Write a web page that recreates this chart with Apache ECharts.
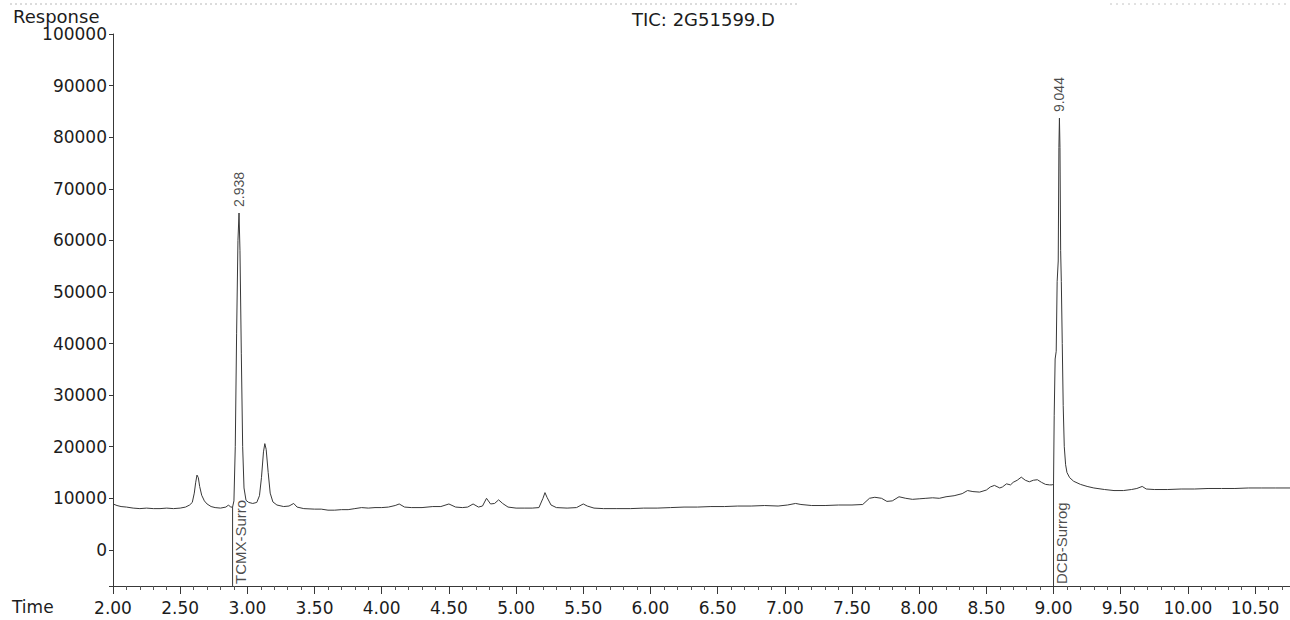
<!DOCTYPE html>
<html>
<head>
<meta charset="utf-8">
<title>TIC: 2G51599.D</title>
<script src="https://cdn.jsdelivr.net/npm/echarts/dist/echarts.min.js"></script>
<style>
html,body{margin:0;padding:0;background:#fff;}
#chart{width:1290px;height:620px;}
</style>
</head>
<body>
<div id="chart"></div>
<script>
// retention time (min) and detector response
const times = [
  2.00,2.03,2.06,2.10,2.15,2.20,2.25,2.30,2.35,2.40,2.45,2.50,2.54,2.57,2.59,2.605,2.615,2.625,2.635,2.645,
  2.66,2.68,2.70,2.73,2.76,2.80,2.84,2.86,2.875,2.89,2.90,2.91,2.92,2.93,2.938,2.945,2.955,2.965,2.975,2.99,
  3.01,3.04,3.07,3.09,3.105,3.12,3.13,3.14,3.155,3.17,3.19,3.22,3.27,3.31,3.345,3.37,3.42,3.50,3.55,3.60,
  3.65,3.70,3.75,3.80,3.85,3.90,3.95,4.00,4.05,4.10,4.13,4.17,4.22,4.30,4.38,4.44,4.50,4.55,4.60,4.64,
  4.68,4.72,4.75,4.78,4.81,4.84,4.87,4.90,4.94,5.00,5.06,5.12,5.17,5.20,5.215,5.23,5.26,5.30,5.38,5.45,
  5.50,5.53,5.58,5.65,5.75,5.85,5.95,6.05,6.15,6.25,6.35,6.45,6.55,6.65,6.75,6.85,6.95,7.02,7.08,7.12,
  7.20,7.30,7.40,7.50,7.58,7.63,7.67,7.72,7.76,7.80,7.85,7.90,7.95,8.00,8.05,8.10,8.15,8.20,8.26,8.32,
  8.36,8.40,8.45,8.50,8.53,8.56,8.60,8.62,8.65,8.68,8.70,8.73,8.76,8.79,8.82,8.85,8.88,8.91,8.94,8.97,
  8.99,9.00,9.005,9.012,9.02,9.027,9.035,9.04,9.044,9.048,9.053,9.058,9.065,9.072,9.08,9.09,9.10,9.12,9.15,9.20,
  9.25,9.30,9.38,9.45,9.52,9.58,9.62,9.66,9.69,9.75,9.85,9.95,10.05,10.15,10.25,10.35,10.45,10.55,10.65,10.76
];
const responses = [
  8900,8600,8400,8300,8100,8000,8100,8000,8000,8100,8000,8100,8300,8700,9200,11000,13000,14500,14000,12300,
  10600,9500,8900,8400,8200,8100,8300,8700,8300,8300,9500,20000,42000,60000,65300,58000,38000,20000,12000,9600,
  9200,9000,9200,10500,14000,19000,20600,19500,15000,11000,9300,8700,8400,8500,9000,8300,8000,7900,7900,7700,
  7700,7800,7800,8000,8200,8100,8200,8200,8300,8600,8900,8300,8200,8200,8400,8400,8900,8300,8200,8300,
  8900,8300,8500,10000,8900,9000,9700,9000,8300,8100,8100,8100,8200,10000,11100,10200,8700,8200,8100,8200,
  8900,8500,8100,8000,8000,8000,8100,8100,8200,8300,8300,8400,8400,8500,8500,8600,8500,8700,9000,8800,
  8600,8600,8700,8700,8800,10000,10200,10000,9400,9500,10300,10000,9800,9900,10000,10100,10000,10300,10500,10900,
  11500,11300,11200,11600,12200,12500,12000,12200,12800,12600,13100,13500,14100,13500,13200,13500,13600,13100,12700,12600,
  12600,12800,26000,37000,38500,52000,56000,78000,83700,78000,58000,52000,40000,28000,20000,16500,15000,14000,13300,12700,
  12300,12000,11700,11500,11500,11700,11900,12300,11800,11700,11700,11800,11800,11900,11900,11900,12000,12000,12000,12000
];

// labelled peaks (apex retention times)
const peakTimes = [2.938, 9.044];
// integration start markers and compound names
const markerTimes = [2.89, 9.00];
const markerNames = ['TCMX-Surro', 'DCB-Surrog'];

const yMin = -7000;
const yMax = 100000;
const xMin = 2.0;
const xMax = 10.76;

const ink = '#383838';
const txt = '#1c1c1c';

function valueAt(t){
  const i = times.indexOf(t);
  return responses[i];
}

const trace = times.map((t, i) => [t, responses[i]]);
const peaks = peakTimes.map(t => [t, valueAt(t)]);

const markerSeries = markerTimes.map((t, i) => ({
  type: 'line',
  silent: true,
  symbol: 'none',
  lineStyle: {color: ink, width: 1},
  data: [[t, yMin], [t, valueAt(t)]]
}));

const chart = echarts.init(document.getElementById('chart'), null, {renderer: 'svg'});
chart.setOption({
  animation: false,
  backgroundColor: '#fff',
  grid: {left: 113, right: 0, top: 34, bottom: 34},
  graphic: [
    {type: 'line', shape: {x1: 10, y1: 4, x2: 800, y2: 4},
      style: {stroke: '#b8b8b8', lineWidth: 1, lineDash: [2, 3]}},
    {type: 'line', shape: {x1: 1110, y1: 4, x2: 1288, y2: 4},
      style: {stroke: '#c4c4c4', lineWidth: 1, lineDash: [2, 4]}},
    {type: 'text', left: 13, top: 7,
      style: {text: 'Response', fontFamily: 'DejaVu Sans', fontSize: 18, fill: txt}},
    {type: 'text', left: 12, top: 598,
      style: {text: 'Time', fontFamily: 'DejaVu Sans', fontSize: 17, fill: txt}},
    {type: 'text', left: 632, top: 10,
      style: {text: 'TIC: 2G51599.D', fontFamily: 'DejaVu Sans', fontSize: 18, fill: txt}}
  ],
  xAxis: {
    type: 'value',
    min: xMin,
    max: xMax,
    interval: 0.5,
    axisLine: {onZero: false, lineStyle: {color: ink, width: 1}},
    axisTick: {length: 8, lineStyle: {color: ink}},
    minorTick: {show: true, splitNumber: 5, length: 4, lineStyle: {color: '#555'}},
    splitLine: {show: false},
    axisLabel: {
      margin: 13,
      showMaxLabel: false,
      color: txt,
      fontFamily: 'DejaVu Sans',
      fontSize: 17,
      formatter: v => v.toFixed(2)
    }
  },
  yAxis: {
    type: 'value',
    min: yMin,
    max: yMax,
    splitNumber: 10,
    minInterval: 10000,
    maxInterval: 10000,
    axisLine: {show: true, lineStyle: {color: ink, width: 1}},
    axisTick: {show: true, length: 4, lineStyle: {color: ink}},
    splitLine: {show: false},
    axisLabel: {
      margin: 6,
      color: txt,
      fontFamily: 'DejaVu Sans',
      fontSize: 17,
      formatter: v => (v < 0 ? '' : String(v))
    }
  },
  series: [
    {
      type: 'line',
      name: 'TIC',
      silent: true,
      symbol: 'none',
      lineStyle: {color: ink, width: 1},
      data: trace
    },
    ...markerSeries,
    {
      // retention time labels above the two surrogate peaks
      type: 'scatter',
      silent: true,
      symbolSize: 0,
      data: peaks,
      label: {
        show: true,
        position: [0, -6],
        rotate: 90,
        align: 'left',
        verticalAlign: 'middle',
        color: txt,
        fontFamily: 'Liberation Sans',
        fontSize: 14,
        formatter: p => p.value[0].toFixed(3)
      }
    },
    {
      // compound names at the bottom of the marker lines
      type: 'scatter',
      silent: true,
      symbolSize: 0,
      data: markerTimes.map((t, i) => ({value: [t, yMin], name: markerNames[i]})),
      label: {
        show: true,
        position: [8, -2],
        rotate: 90,
        align: 'left',
        verticalAlign: 'middle',
        color: txt,
        fontFamily: 'Liberation Sans',
        fontSize: 15,
        formatter: p => p.name
      }
    }
  ]
});
</script>
</body>
</html>
